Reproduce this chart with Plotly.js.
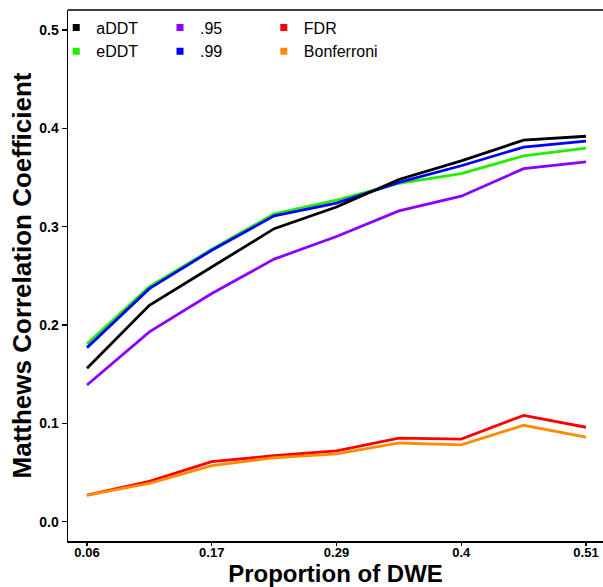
<!DOCTYPE html>
<html>
<head>
<meta charset="utf-8">
<script src="https://cdn.plot.ly/plotly-3.0.1.min.js"></script>
<style>html,body{margin:0;padding:0;background:#fff;}#chart{width:603px;height:587px;}</style>
</head>
<body>
<div id="chart"></div>
<script>
// x positions are equally spaced categories (9 levels); only every other one is labelled
const xIndex = [1, 2, 3, 4, 5, 6, 7, 8, 9];
const tickPositions = [1, 3, 5, 7, 9];
const tickLabels = ['0.06', '0.17', '0.29', '0.4', '0.51'];

const aDDT = [0.156, 0.220, 0.259, 0.298, 0.320, 0.348, 0.367, 0.388, 0.392];
const eDDT = [0.181, 0.239, 0.277, 0.313, 0.327, 0.344, 0.354, 0.372, 0.380];
const p95 = [0.139, 0.193, 0.232, 0.267, 0.290, 0.316, 0.331, 0.359, 0.366];
const p99 = [0.177, 0.237, 0.276, 0.311, 0.324, 0.345, 0.362, 0.381, 0.387];
const FDR = [0.027, 0.041, 0.061, 0.067, 0.072, 0.085, 0.084, 0.108, 0.096];
const Bonferroni = [0.027, 0.039, 0.057, 0.065, 0.069, 0.080, 0.078, 0.098, 0.086];

const seriesNames = ['aDDT', 'eDDT', '.95', '.99', 'FDR', 'Bonferroni'];
const seriesValues = [aDDT, eDDT, p95, p99, FDR, Bonferroni];
const seriesColors = ['#000000', '#22ee00', '#8b00ff', '#0000ff', '#ff0000', '#ff8c00'];
const legendOf = ['legend', 'legend', 'legend2', 'legend2', 'legend3', 'legend3'];
const drawOrder = [4, 5, 2, 1, 3, 0];

const traces = [];
drawOrder.forEach(i => {
  traces.push({
    x: xIndex, y: seriesValues[i], type: 'scatter', mode: 'lines',
    line: {color: seriesColors[i], width: 2.8}, showlegend: false, hoverinfo: 'skip'
  });
});
seriesNames.forEach((n, i) => {
  traces.push({
    x: [null], y: [null], type: 'scatter', mode: 'markers', name: n,
    marker: {symbol: 'square', size: 7, color: seriesColors[i]},
    legend: legendOf[i], showlegend: true
  });
});

const legFont = {family: 'Liberation Sans, Arial, sans-serif', size: 16, color: '#000'};
const legBase = {font: legFont, bgcolor: 'rgba(0,0,0,0)', borderwidth: 0, y: 0.999, yanchor: 'top',
  xanchor: 'left', orientation: 'v', tracegroupgap: 0, itemwidth: 30};

const bold = {family: 'Liberation Sans, Arial, sans-serif', weight: 'bold', color: '#000'};

const layout = {
  width: 603, height: 587,
  margin: {l: 68, r: 0, t: 10, b: 46},
  paper_bgcolor: '#fff', plot_bgcolor: '#fff',
  showlegend: true,
  legend: Object.assign({}, legBase, {x: -0.022}),
  legend2: Object.assign({}, legBase, {x: 0.172}),
  legend3: Object.assign({}, legBase, {x: 0.366}),
  xaxis: {
    range: [0.6954, 9.2725], tickvals: tickPositions, ticktext: tickLabels,
    showgrid: false, zeroline: false, showline: true, linecolor: '#000', linewidth: 1.5,
    ticks: 'outside', ticklen: 3, tickwidth: 1.3, tickcolor: '#000',
    ticklabelstandoff: -4,
    tickfont: Object.assign({size: 13}, bold),
    title: {text: 'Proportion of DWE', font: Object.assign({size: 24}, bold), standoff: 5}
  },
  yaxis: {
    range: [-0.0197, 0.5204], tickvals: [0, 0.1, 0.2, 0.3, 0.4, 0.5], tickformat: '.1f',
    showgrid: false, zeroline: false, showline: true, linecolor: '#000', linewidth: 1.5,
    ticks: 'outside', ticklen: 5, tickwidth: 1.3, tickcolor: '#000',
    tickfont: Object.assign({size: 14}, bold),
    title: {text: 'Matthews Correlation Coefficient', font: Object.assign({size: 26}, bold), standoff: 0}
  },
  shapes: [{type: 'line', xref: 'paper', yref: 'paper', x0: 0, x1: 1, y0: 1, y1: 1,
    line: {color: '#000', width: 1.5}}]
};

Plotly.newPlot('chart', traces, layout, {displayModeBar: false, staticPlot: true});
</script>
</body>
</html>
